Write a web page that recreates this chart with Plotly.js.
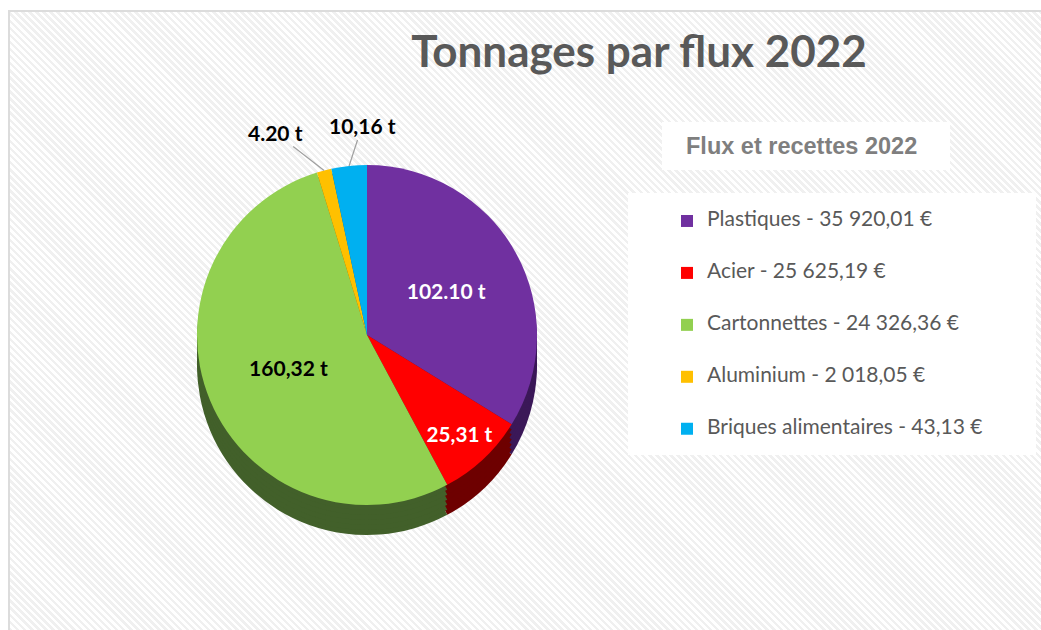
<!DOCTYPE html>
<html><head><meta charset="utf-8">
<script src="https://cdn.plot.ly/plotly-3.0.1.min.js"></script>
<style>
html,body{margin:0;padding:0;background:#fff;width:1041px;height:630px;overflow:hidden;}
#frame{position:absolute;left:8px;top:10px;width:1100px;height:700px;border-left:2px solid #dcdcdc;border-top:2px solid #dcdcdc;
background:repeating-linear-gradient(45deg,#ffffff 0px,#ffffff 2.5px,#f0f0f0 2.5px,#f0f0f0 5px);}
#chart{position:absolute;left:0;top:0;width:1041px;height:630px;}
</style></head><body><div id="frame"></div><div id="chart"></div>
<script>
const categories = ['Plastiques','Acier','Cartonnettes','Aluminium','Briques alimentaires'];
const tonnages = [102.10, 25.31, 160.32, 4.20, 10.16];
const tonnageLabels = ['102.10 t','25,31 t','160,32 t','4.20 t','10,16 t'];
const recettes = ['35 920,01 €','25 625,19 €','24 326,36 €','2 018,05 €','43,13 €'];
const colors = ['#7030A0','#FF0000','#92D050','#FFC000','#00B0F0'];
const sideColors = ['#3b1858','#6e0000','#42602a','#8a6500','#005f85'];
const labelColors = ['#ffffff','#ffffff','#000000','#000000','#000000'];
const labelPositions = ['inside','inside','inside','none','none'];
// offsets (px) of the outside labels from their slice edge
const outsideOffsets = { 3: [-49, -38], 4: [13, -40] };

const W = 1041, H = 630;
const cx = 367, cy = 335, D = 340, depth = 30;
const px = v => v / W, py = v => 1 - v / H;

const legendLabels = categories.map((c, i) =>
  '&nbsp;<br><span style="font-size:21px">' + c + ' - ' + recettes[i] + '</span><br>&nbsp;');

function dom(shift) {
  return { x: [px(cx - D / 2), px(cx + D / 2)], y: [py(cy + D / 2 + shift), py(cy - D / 2 + shift)] };
}

const traces = [];
for (let s = depth; s > 0; s -= 5) {
  traces.push({
    type: 'pie', values: tonnages, labels: legendLabels, sort: false, direction: 'clockwise', rotation: 0,
    marker: { colors: sideColors, line: { width: 0 } }, textinfo: 'none', hoverinfo: 'skip', showlegend: false,
    domain: dom(s)
  });
}
traces.push({
  type: 'pie', values: tonnages, labels: legendLabels, text: tonnageLabels, sort: false, direction: 'clockwise', rotation: 0,
  marker: { colors: colors, line: { width: 0 } }, textinfo: 'text', textposition: labelPositions,
  insidetextorientation: 'horizontal',
  textfont: { family: 'Lato, sans-serif', size: 21, color: labelColors, weight: 'bold' },
  hoverinfo: 'label+value', domain: dom(0)
});

// leader-line labels for the small slices, anchored at the slice's mid-angle on the rim
const total = tonnages.reduce((a, b) => a + b, 0);
const annotations = [
  { text: '<b>Flux et recettes 2022</b>', xref: 'paper', yref: 'paper', x: px(801), y: py(146),
    xanchor: 'center', yanchor: 'middle', showarrow: false,
    font: { family: 'Liberation Sans, Arial, sans-serif', size: 23.5, color: '#7f7f7f' } }
];
let cum = 0;
tonnages.forEach((v, i) => {
  const mid = (cum + v / 2) / total * 2 * Math.PI;
  cum += v;
  if (outsideOffsets[i]) {
    const tx = cx + (D / 2) * Math.sin(mid), ty = cy - (D / 2) * Math.cos(mid);
    annotations.push({
      text: '<b>' + tonnageLabels[i] + '</b>', xref: 'paper', yref: 'paper', x: px(tx), y: py(ty),
      ax: outsideOffsets[i][0], ay: outsideOffsets[i][1], showarrow: true, arrowhead: 0, arrowwidth: 1.2,
      arrowcolor: '#a0a0a0', standoff: 0, startstandoff: 0,
      font: { family: 'Lato, sans-serif', size: 21, color: '#000000' }
    });
  }
});

const layout = {
  width: W, height: H, margin: { l: 0, r: 0, t: 0, b: 0 },
  paper_bgcolor: 'rgba(0,0,0,0)', plot_bgcolor: 'rgba(0,0,0,0)',
  title: { text: '<b>Tonnages par flux 2022</b>', x: 639 / W, xanchor: 'center', y: py(52), yanchor: 'middle',
    font: { family: 'Lato, sans-serif', size: 44, color: '#595959' } },
  showlegend: true,
  legend: { x: px(667), xanchor: 'left', y: py(190), yanchor: 'top', bgcolor: 'rgba(0,0,0,0)',
    font: { family: 'Lato, sans-serif', size: 12.55, color: '#595959' } },
  shapes: [
    { type: 'rect', xref: 'paper', yref: 'paper', x0: px(628), x1: px(1036), y0: py(455), y1: py(193),
      fillcolor: '#ffffff', line: { width: 0 }, layer: 'below' },
    { type: 'rect', xref: 'paper', yref: 'paper', x0: px(662), x1: px(950), y0: py(170), y1: py(122),
      fillcolor: '#ffffff', line: { width: 0 }, layer: 'below' }
  ],
  annotations: annotations
};
Plotly.newPlot('chart', traces, layout, { displayModeBar: false, staticPlot: true });
</script></body></html>
